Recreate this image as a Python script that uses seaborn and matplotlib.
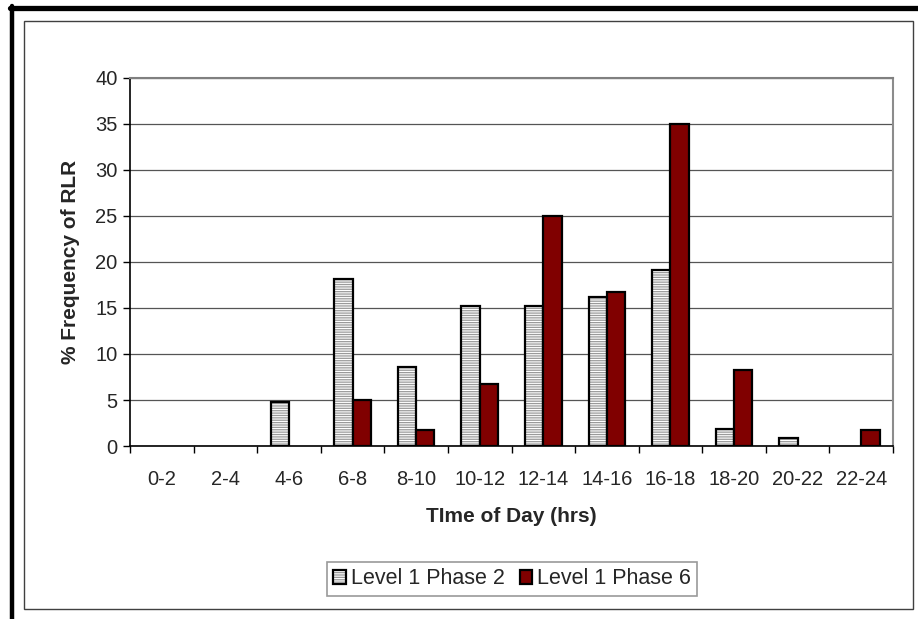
import matplotlib
matplotlib.use("Agg")
import matplotlib.pyplot as plt
import matplotlib.colors as mcolors
from matplotlib.lines import Line2D
from matplotlib.patches import Rectangle, Patch
import seaborn as sns
import pandas as pd

categories = ["0-2", "2-4", "4-6", "6-8", "8-10", "10-12", "12-14",
              "14-16", "16-18", "18-20", "20-22", "22-24"]
phase2 = [0, 0, 4.8, 18.1, 8.6, 15.2, 15.2, 16.2, 19.1, 1.9, 0.9, 0]
phase6 = [0, 0, 0, 5.0, 1.7, 6.7, 25.0, 16.7, 35.0, 8.3, 0, 1.7]
series_names = ["Level 1 Phase 2", "Level 1 Phase 6"]
yticks = [0, 5, 10, 15, 20, 25, 30, 35, 40]

df = pd.DataFrame({
    "cat": categories * 2,
    "val": phase2 + phase6,
    "series": [series_names[0]] * len(categories) + [series_names[1]] * len(categories),
})

sns.set_style("white")
plt.rcParams["font.family"] = ["Liberation Sans", "DejaVu Sans"]
plt.rcParams["hatch.linewidth"] = 0.9

W, H = 918, 619
fig = plt.figure(figsize=(W / 100, H / 100), dpi=100)
ax = fig.add_axes([130 / W, 1 - 446 / H, (893 - 130) / W, (446 - 78) / H])

colors = {series_names[0]: "white", series_names[1]: "#800000"}
sns.barplot(data=df, x="cat", y="val", hue="series", order=categories,
            hue_order=series_names, palette=colors, width=0.576, gap=0,
            saturation=1, edgecolor="black", linewidth=1.6, legend=False,
            ax=ax, zorder=3)

hatch_gray = mcolors.to_rgba("#9a9a9a")
for p in ax.containers[0]:
    p.set_hatch("-------")
    p._hatch_color = hatch_gray
for cont in ax.containers:
    for p in cont:
        if p.get_height() == 0:
            p.set_visible(False)

ax.set_xlim(-0.5, len(categories) - 0.5)
ax.set_ylim(0, 40)
ax.set_yticks(yticks)
ax.set_yticklabels([str(t) for t in yticks], fontsize=14.5)
ax.yaxis.grid(True, color="#555555", linewidth=0.9, zorder=0)
ax.set_axisbelow(True)

ax.set_xticks(range(len(categories)))
ax.set_xticklabels(categories, fontsize=14.5)
ax.set_xticks([i - 0.5 for i in range(len(categories) + 1)], minor=True)
ax.tick_params(axis="x", which="major", length=0, pad=17)
ax.tick_params(axis="x", which="minor", length=5, width=1, color="black", direction="out", bottom=True)
ax.tick_params(axis="y", length=5, width=1, color="black", direction="out", left=True, pad=4)

for s in ["left", "bottom"]:
    ax.spines[s].set_color("black")
    ax.spines[s].set_linewidth(1.2)
ax.spines["top"].set_visible(True)
ax.spines["top"].set_color("#808080")
ax.spines["top"].set_linewidth(1.5)
ax.spines["right"].set_visible(True)
ax.spines["right"].set_color("#8c8c8c")
ax.spines["right"].set_linewidth(1.5)

ax.set_xlabel("TIme of Day (hrs)", fontsize=15, fontweight="bold", labelpad=13)
ax.set_ylabel("% Frequency of RLR", fontsize=15, fontweight="bold", labelpad=11)

# legend
h1 = Patch(facecolor="white", edgecolor="black", hatch="-------", linewidth=1.6)
h1._hatch_color = hatch_gray
h2 = Patch(facecolor="#800000", edgecolor="black", linewidth=1.6)
leg = fig.legend([h1, h2], series_names, loc="center", bbox_to_anchor=(512 / W, 1 - 579 / H),
                 ncol=2, fontsize=15.5, frameon=True, fancybox=False, handlelength=0.6,
                 handleheight=0.6, handletextpad=0.2, columnspacing=0.7,
                 borderpad=0.3, borderaxespad=0, edgecolor="#808080")
leg.get_frame().set_linewidth(1.2)
for lh in leg.legend_handles:
    if lh.get_hatch():
        lh._hatch_color = hatch_gray

# outer frame
fig.add_artist(Line2D([10 / W, 1], [1 - 7.5 / H, 1 - 7.5 / H], color="black", linewidth=3.8,
                      transform=fig.transFigure))
fig.add_artist(Line2D([12 / W, 12 / W], [0, 1 - 5.5 / H], color="black", linewidth=3.2,
                      transform=fig.transFigure))
fig.add_artist(Rectangle((24 / W, 1 - 609 / H), (913 - 24) / W, (609 - 21) / H,
                         transform=fig.transFigure, fill=False, edgecolor="#404040",
                         linewidth=1.0))

fig.savefig("out.png", dpi=100)
